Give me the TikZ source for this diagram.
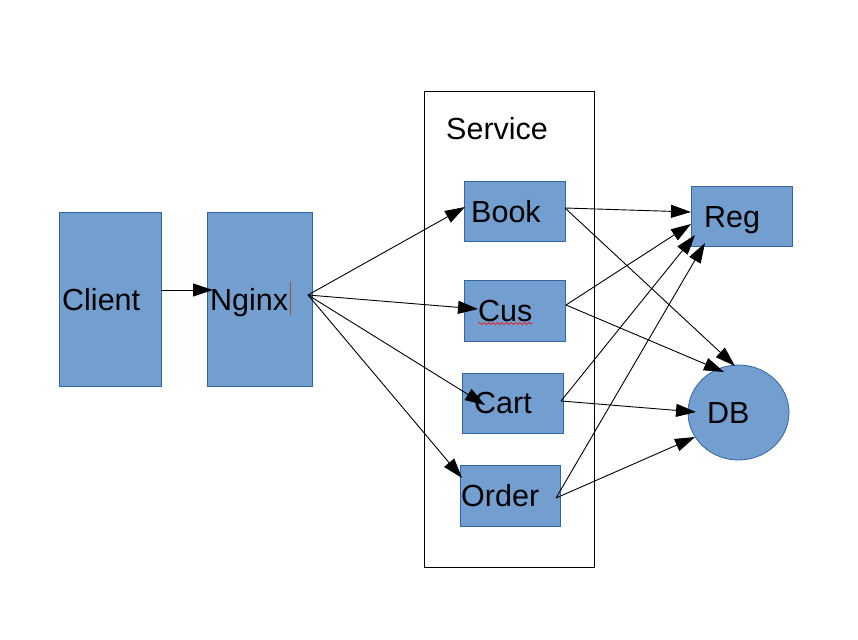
\documentclass[tikz,border=0pt]{standalone}
\usepackage{fontspec}
\setmainfont{Liberation Sans}
\usetikzlibrary{arrows.meta,shapes.geometric,decorations.pathmorphing}
\definecolor{boxfill}{HTML}{729FCF}
\definecolor{boxline}{HTML}{3465A4}
\definecolor{cursorc}{HTML}{A0522D}
\tikzset{
  bluebox/.style={draw=boxline,fill=boxfill,line width=0.8pt,rectangle,inner sep=0pt,anchor=north west},
  lbl/.style={anchor=base west,inner sep=0pt,font=\fontsize{30.5}{36}\selectfont},
  conn/.style={draw=black,line width=0.9pt,-{Triangle[length=20pt,width=13pt]}}
}
\begin{document}
\begin{tikzpicture}[x=1pt,y=-1pt]
\useasboundingbox (0,0) rectangle (858,639);
% container
\node[draw=black,line width=0.9pt,fill=white,rectangle,inner sep=0pt,anchor=north west,minimum width=170pt,minimum height=476pt] (svc) at (424,91) {};
\node[lbl] (svct) at (446,140) {Service};
% boxes
\node[bluebox,minimum width=102pt,minimum height=174pt] (client) at (59,212) {};
\node[bluebox,minimum width=105pt,minimum height=174pt] (nginx) at (207,212) {};
\node[bluebox,minimum width=101pt,minimum height=60pt] (book) at (464,181) {};
\node[bluebox,minimum width=101pt,minimum height=61pt] (cus) at (464,280) {};
\node[bluebox,minimum width=101pt,minimum height=60pt] (cart) at (462,373) {};
\node[bluebox,minimum width=100pt,minimum height=61pt] (order) at (460,465) {};
\node[bluebox,minimum width=101pt,minimum height=60pt] (reg) at (691,186) {};
\node[draw=boxline,fill=boxfill,line width=0.8pt,ellipse,inner sep=0pt,minimum width=101pt,minimum height=95pt] (db) at (738.5,412.5) {};
% labels
\node[lbl] (clientt) at (62,310) {Client};
\node[lbl] (nginxt) at (210,310) {Nginx};
\node[lbl] (bookt) at (471,222) {Book};
\node[lbl] (cust) at (478,321) {Cus};
\node[lbl] (cartt) at (474,413) {Cart};
\node[lbl] (ordert) at (461,506) {Order};
\node[lbl] (regt) at (704,227) {Reg};
\node[lbl] (dbt) at (707,423) {DB};
% text cursor and spell underline
\coordinate (curA) at (290,282);
\coordinate (curB) at (290,315);
\draw[cursorc,line width=0.8pt] (curA) -- (curB);
\coordinate (sqA) at (478,323.5);
\coordinate (sqB) at (532,323.5);
\draw[red,line width=0.6pt,decorate,decoration={snake,segment length=4.5pt,amplitude=1pt}] (sqA) -- (sqB);
% connector points
\coordinate (cOut) at (161,290);
\coordinate (nIn) at (213,290);
\coordinate (nOut) at (308,295);
\coordinate (bookIn) at (465,207);
\coordinate (cusIn) at (478,309);
\coordinate (cartIn) at (485,405);
\coordinate (orderIn) at (462,478);
\coordinate (bookOut) at (565,208);
\coordinate (cusOut) at (566,305);
\coordinate (cartOut) at (561,401);
\coordinate (orderOut) at (556,498);
\coordinate (regInB) at (691,212);
\coordinate (regInCu) at (691,224);
\coordinate (regInCa) at (695,235);
\coordinate (regInO) at (705,243);
\coordinate (dbInB) at (735,366);
\coordinate (dbInCu) at (724,372);
\coordinate (dbInCa) at (696,412);
\coordinate (dbInO) at (695,437);
% connectors
\draw[conn] (cOut) -- (nIn);
\draw[conn] (nOut) -- (bookIn);
\draw[conn] (nOut) -- (cusIn);
\draw[conn] (nOut) -- (cartIn);
\draw[conn] (nOut) -- (orderIn);
\draw[conn] (bookOut) -- (regInB);
\draw[conn] (bookOut) -- (dbInB);
\draw[conn] (cusOut) -- (regInCu);
\draw[conn] (cusOut) -- (dbInCu);
\draw[conn] (cartOut) -- (regInCa);
\draw[conn] (cartOut) -- (dbInCa);
\draw[conn] (orderOut) -- (regInO);
\draw[conn] (orderOut) -- (dbInO);
\end{tikzpicture}
\end{document}
